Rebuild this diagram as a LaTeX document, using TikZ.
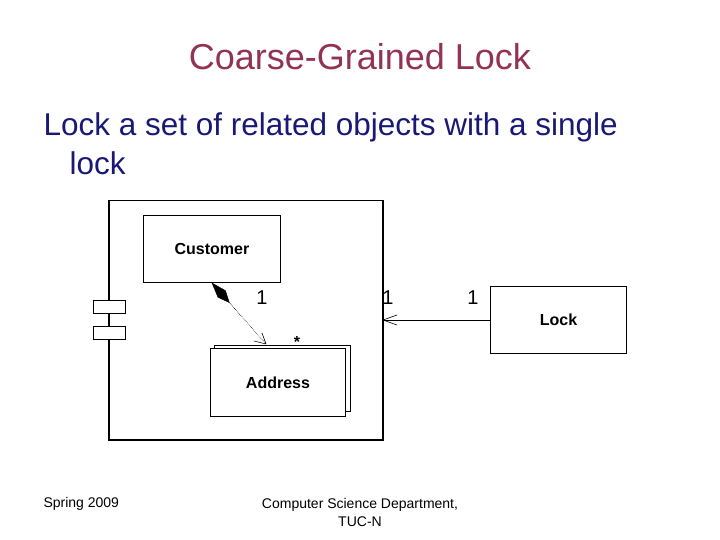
\documentclass[tikz,border=0pt]{standalone}
\usepackage{fontspec}
\setmainfont{Liberation Sans}
\usetikzlibrary{calc}
\begin{document}
\begin{tikzpicture}[x=1pt,y=-1pt,
  box/.style={draw,line width=1pt,fill=white,inner sep=0},
  lbl/.style={font=\fontsize{16}{18}\selectfont\bfseries},
  mult/.style={font=\fontsize{20}{22}\selectfont}]
\useasboundingbox (0,0) rectangle (720,540);
\node[text=red!55!black!85!blue!80, font=\fontsize{36}{40}\selectfont] (title) at (360,57) {Coarse-Grained Lock};
\node[text=blue!40!black!90, font=\fontsize{31.5}{36}\selectfont, anchor=west] (l1) at (40,127) {Lock a set of related objects with a single};
\node[text=blue!40!black!90, font=\fontsize{31.5}{36}\selectfont, anchor=west] (l2) at (66,163) {lock};
\node[box,line width=1.5pt,minimum width=274,minimum height=239,anchor=north west] (comp) at (108,200) {};
\node[box,minimum width=32,minimum height=13,anchor=north west] (t1) at (93,300) {};
\node[box,minimum width=32,minimum height=13,anchor=north west] (t2) at (93,326) {};
\node[box,minimum width=137,minimum height=67,anchor=north west,label={[lbl]center:Customer}] (cust) at (143,215) {};
\node[box,minimum width=136,minimum height=66,anchor=north west] (addrb) at (214,345) {};
\node[box,minimum width=135,minimum height=68,anchor=north west,label={[lbl]center:Address}] (addr) at (210,348) {};
\node[box,minimum width=136,minimum height=67,anchor=north west,label={[lbl]center:Lock}] (lock) at (490,286) {};
\coordinate (a1) at (212,283);
\coordinate (a2) at (266,344);
\draw[densely dotted,line width=0.6pt] (a1) -- (a2);
\draw[fill=black] (a1) -- ($(a1)!0.18!(a2)!5pt!90:(a2)$) -- ($(a1)!0.32!(a2)$) -- ($(a1)!0.18!(a2)!5pt!-90:(a2)$) -- cycle;
\draw[line width=0.6pt] (a2) -- ++(-12,-3) (a2) -- ++(-4,-11);
\draw[line width=0.6pt] (lock.west|-0,320) coordinate (b1) -- (383,320) coordinate (b2);
\draw[line width=0.6pt] (b2) -- ++(14,-5) (b2) -- ++(14,5);
\node[mult] (m1) at (262,298) {1};
\node[mult] (m2) at (388,298) {1};
\node[mult] (m3) at (473,298) {1};
\node[font=\fontsize{16}{18}\selectfont\bfseries] (st) at (297,342) {*};
\node[font=\fontsize{14}{16}\selectfont,anchor=west] (f1) at (40,504) {Spring 2009};
\node[font=\fontsize{14}{18}\selectfont,align=center] (f2) at (360,512) {Computer Science Department,\\TUC-N};
\end{tikzpicture}
\end{document}
